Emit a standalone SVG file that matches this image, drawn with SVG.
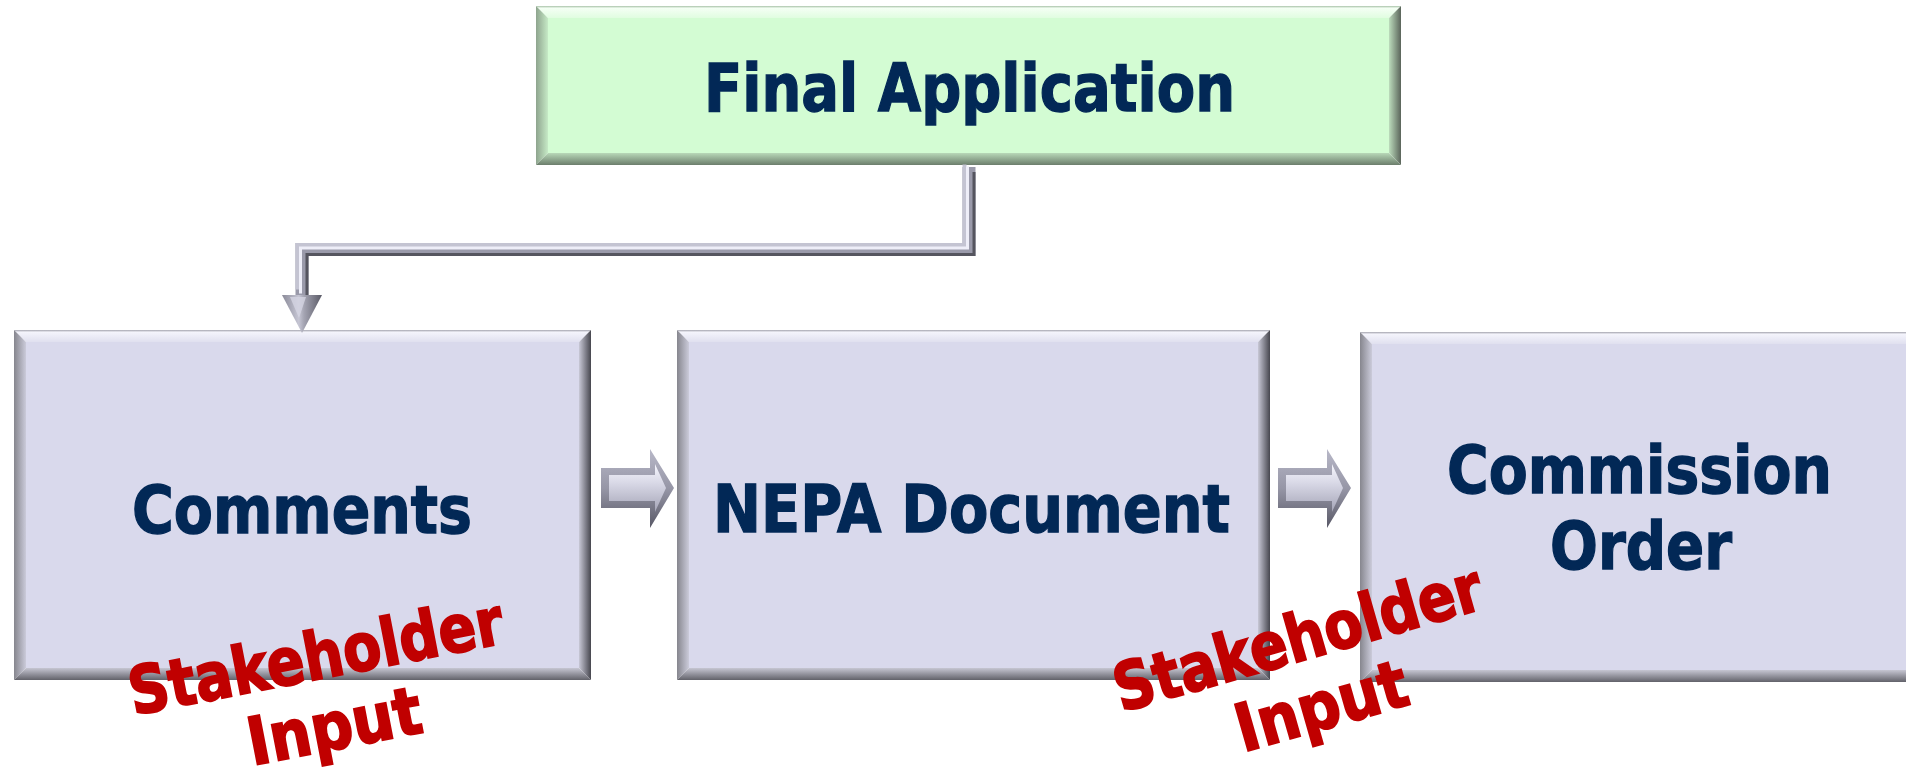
<svg xmlns="http://www.w3.org/2000/svg" xmlns:xlink="http://www.w3.org/1999/xlink" width="1906" height="777" viewBox="0 0 1906 777">
  <defs>
    <!-- bevel shading for the lavender process boxes -->
    <linearGradient id="bTop" x1="0" y1="0" x2="0" y2="1">
      <stop offset="0" stop-color="#a4a4ae"/>
      <stop offset="0.18" stop-color="#f4f4fc"/>
      <stop offset="1" stop-color="#e0e0ef"/>
    </linearGradient>
    <linearGradient id="bLeft" x1="0" y1="0" x2="1" y2="0">
      <stop offset="0" stop-color="#86868e"/>
      <stop offset="1" stop-color="#cbcbda"/>
    </linearGradient>
    <linearGradient id="bRight" x1="0" y1="0" x2="1" y2="0">
      <stop offset="0" stop-color="#c8c8d6"/>
      <stop offset="1" stop-color="#46464e"/>
    </linearGradient>
    <linearGradient id="bBot" x1="0" y1="0" x2="0" y2="1">
      <stop offset="0" stop-color="#c6c6d2"/>
      <stop offset="1" stop-color="#62626a"/>
    </linearGradient>
    <!-- bevel shading for the green box -->
    <linearGradient id="gTop" x1="0" y1="0" x2="0" y2="1">
      <stop offset="0" stop-color="#a8c2a8"/>
      <stop offset="0.18" stop-color="#f4fff4"/>
      <stop offset="1" stop-color="#e0fde0"/>
    </linearGradient>
    <linearGradient id="gLeft" x1="0" y1="0" x2="1" y2="0">
      <stop offset="0" stop-color="#8ea48e"/>
      <stop offset="1" stop-color="#c6eac6"/>
    </linearGradient>
    <linearGradient id="gRight" x1="0" y1="0" x2="1" y2="0">
      <stop offset="0" stop-color="#bcdcbc"/>
      <stop offset="1" stop-color="#5a645a"/>
    </linearGradient>
    <linearGradient id="gBot" x1="0" y1="0" x2="0" y2="1">
      <stop offset="0" stop-color="#b8d8b8"/>
      <stop offset="1" stop-color="#6c7e6c"/>
    </linearGradient>
    <!-- block arrow shading -->
    <linearGradient id="arrOut" x1="0" y1="0" x2="0" y2="1">
      <stop offset="0" stop-color="#b8b8c8"/>
      <stop offset="0.5" stop-color="#9696a6"/>
      <stop offset="1" stop-color="#585866"/>
    </linearGradient>
    <linearGradient id="arrIn" x1="0" y1="0" x2="0" y2="1">
      <stop offset="0" stop-color="#f6f6fd"/>
      <stop offset="0.4" stop-color="#d8d8e6"/>
      <stop offset="1" stop-color="#a4a4b6"/>
    </linearGradient>
    <linearGradient id="headDown" x1="0" y1="0" x2="1" y2="0">
      <stop offset="0" stop-color="#8a8a98"/>
      <stop offset="0.42" stop-color="#c6c6d4"/>
      <stop offset="0.55" stop-color="#a4a4b2"/>
      <stop offset="1" stop-color="#5a5a66"/>
    </linearGradient>
    <g id="blockArrow">
      <polygon points="601,468 650,468 650,449 674,488 650,528 650,508 601,508" fill="url(#arrOut)"/>
      <polygon points="609,475 655,475 655,464 666,488 655,512 655,501 609,501" fill="url(#arrIn)"/>
    </g>
  </defs>
  <style>
    .face { fill: #d9d9ec; }
    .gface { fill: #d3fcd3; }
    .lbl { font-family: "DejaVu Sans", "Liberation Sans", sans-serif; font-weight: bold; font-size: 66px; fill: #022856; stroke: #022856; stroke-width: 1.4px; text-anchor: middle; }
    .sh { font-family: "DejaVu Sans", "Liberation Sans", sans-serif; font-weight: bold; font-size: 66px; fill: #c00000; stroke: #c00000; stroke-width: 2px; text-anchor: middle; }
    .bar { fill: none; stroke-linejoin: miter; stroke-linecap: butt; }
  </style>

  <rect width="1906" height="777" fill="#ffffff"/>

  <!-- Final Application -->
  <g id="final-application">
    <rect class="gface" x="548" y="18" width="841" height="135"/>
    <polygon points="536,6 1401,6 1389,18 548,18" fill="url(#gTop)"/>
    <polygon points="536,6 548,18 548,153 536,165" fill="url(#gLeft)"/>
    <polygon points="1401,6 1401,165 1389,153 1389,18" fill="url(#gRight)"/>
    <polygon points="536,165 548,153 1389,153 1401,165" fill="url(#gBot)"/>
    <text class="lbl" x="969.5" y="111" textLength="531" lengthAdjust="spacingAndGlyphs">Final Application</text>
  </g>

  <!-- Comments -->
  <g id="comments">
    <rect class="face" x="26" y="342" width="553" height="326"/>
    <polygon points="14,330 591,330 579,342 26,342" fill="url(#bTop)"/>
    <polygon points="14,330 26,342 26,668 14,680" fill="url(#bLeft)"/>
    <polygon points="591,330 591,680 579,668 579,342" fill="url(#bRight)"/>
    <polygon points="14,680 26,668 579,668 591,680" fill="url(#bBot)"/>
    <text class="lbl" x="302" y="533" textLength="340" lengthAdjust="spacingAndGlyphs">Comments</text>
  </g>

  <!-- NEPA Document -->
  <g id="nepa-document">
    <rect class="face" x="689" y="342" width="569" height="326"/>
    <polygon points="677,330 1270,330 1258,342 689,342" fill="url(#bTop)"/>
    <polygon points="677,330 689,342 689,668 677,680" fill="url(#bLeft)"/>
    <polygon points="1270,330 1270,680 1258,668 1258,342" fill="url(#bRight)"/>
    <polygon points="677,680 689,668 1258,668 1270,680" fill="url(#bBot)"/>
    <text class="lbl" x="971.5" y="532" textLength="517" lengthAdjust="spacingAndGlyphs">NEPA Document</text>
  </g>

  <!-- Commission Order -->
  <g id="commission-order">
    <rect class="face" x="1372" y="344" width="546" height="326"/>
    <polygon points="1360,332 1930,332 1918,344 1372,344" fill="url(#bTop)"/>
    <polygon points="1360,332 1372,344 1372,670 1360,682" fill="url(#bLeft)"/>
    <polygon points="1930,332 1930,682 1918,670 1918,344" fill="url(#bRight)"/>
    <polygon points="1360,682 1372,670 1918,670 1930,682" fill="url(#bBot)"/>
    <text class="lbl" x="1639.5" y="493" textLength="385" lengthAdjust="spacingAndGlyphs">Commission</text>
    <text class="lbl" x="1641" y="569" textLength="182" lengthAdjust="spacingAndGlyphs">Order</text>
  </g>

  <!-- connectors -->
  <g id="connectors">
    <!-- elbow from Final Application down to Comments -->
    <polyline class="bar" points="969,167 969,249.5 302,249.5 302,296" stroke="#9a9aaa" stroke-width="13"/>
    <polyline class="bar" points="969,167 969,249.5 302,249.5 302,296" stroke="#55555f" stroke-width="3" transform="translate(5,5)"/>
    <polyline class="bar" points="969,169 969,249.5 302,249.5 302,294" stroke="#c4c4d2" stroke-width="4" transform="translate(-4.5,-4.5)"/>
    <polyline class="bar" points="969,168 969,249.5 302,249.5 302,295" stroke="#eeeef8" stroke-width="3" transform="translate(-1.5,-1.5)"/>
    <polygon points="282,295 322,295 302,333" fill="url(#headDown)"/>
    <polygon points="290,297 306,297 299,318" fill="#d4d4e2" opacity="0.8"/>
    <!-- Comments to NEPA Document -->
    <use xlink:href="#blockArrow"/>
    <!-- NEPA Document to Commission Order -->
    <use xlink:href="#blockArrow" transform="translate(677,0)"/>
  </g>

  <!-- stakeholder input annotations -->
  <g id="stakeholder-input-1" transform="translate(320,679) rotate(-11)">
    <text class="sh" x="0" y="0" textLength="380" lengthAdjust="spacingAndGlyphs">Stakeholder</text>
    <text class="sh" x="5" y="72" textLength="176" lengthAdjust="spacingAndGlyphs">Input</text>
  </g>
  <g id="stakeholder-input-2" transform="translate(1304,660) rotate(-16)">
    <text class="sh" x="0" y="0" textLength="380" lengthAdjust="spacingAndGlyphs">Stakeholder</text>
    <text class="sh" x="4" y="72" textLength="176" lengthAdjust="spacingAndGlyphs">Input</text>
  </g>
</svg>
